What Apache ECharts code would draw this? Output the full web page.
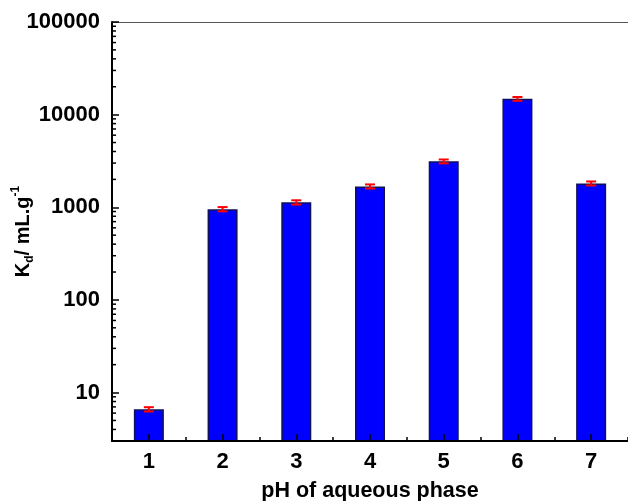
<!DOCTYPE html>
<html><head><meta charset="utf-8">
<script src="https://cdn.jsdelivr.net/npm/echarts@6/dist/echarts.min.js"></script>
<style>html,body{margin:0;padding:0;background:#fff}#c{width:628px;height:501px}</style>
</head><body><div id="c"></div>
<script>
var categories = ['1','2','3','4','5','6','7'];
var kdValues = [6.6, 955, 1130, 1680, 3130, 14800, 1810];
var kdErrors = [0.35, 50, 60, 85, 150, 700, 90];
var yTickLabels = ['10','100','1000','10000','100000'];
var minorMultipliers = [2,3,4,5,6,7,8,9];
var minorDecades = [1,10,100,1000,10000];

var minorData = [];
minorDecades.forEach(function(d){ minorMultipliers.forEach(function(m){ var v=m*d; if(v>3) minorData.push([0,v]); }); });
var errData = kdValues.map(function(v,i){ return [i, v-kdErrors[i], v+kdErrors[i]]; });

var FONT = 'Liberation Sans, Arial, sans-serif';
var chart = echarts.init(document.getElementById('c'), null, {renderer:'canvas'});
chart.setOption({
  animation:false,
  backgroundColor:'#fff',
  grid:{left:112, right:0, top:22, bottom:60, containLabel:false, outerBoundsMode:'none'},
  xAxis:[{
    type:'category', data:categories, position:'bottom', z:10,
    axisLine:{lineStyle:{color:'#000', width:2}},
    axisTick:{show:true, inside:true, alignWithLabel:true, length:7, lineStyle:{color:'#000', width:1.5}},
    axisLabel:{color:'#000', fontFamily:FONT, fontWeight:'bold', fontSize:22, margin:10},
    name:'pH of aqueous phase', nameLocation:'middle', nameGap:39, nameMoveOverlap:false,
    nameTextStyle:{color:'#000', fontFamily:FONT, fontWeight:'bold', fontSize:21.5},
    splitLine:{show:false}
  },{
    type:'category', data:categories, position:'bottom', z:10,
    axisLine:{show:false},
    axisTick:{show:true, inside:true, alignWithLabel:false, length:4, lineStyle:{color:'#000', width:1.5}},
    axisLabel:{show:false}, splitLine:{show:false}
  },{
    type:'category', data:categories, position:'top', z:10,
    axisLine:{lineStyle:{color:'#555', width:1}},
    axisTick:{show:false}, axisLabel:{show:false}, splitLine:{show:false}
  }],
  yAxis:{
    type:'log', min:3, max:100000, logBase:10, z:10,
    axisLine:{show:true, lineStyle:{color:'#000', width:2}},
    axisTick:{show:true, inside:true, length:7, lineStyle:{color:'#000', width:1.5}},
    axisLabel:{color:'#000', fontFamily:FONT, fontWeight:'bold', fontSize:22, margin:12,
      formatter:function(v){ var s=String(Math.round(v)); return yTickLabels.indexOf(s)>=0 ? s : ''; }},
    splitLine:{show:false},
    name:'{b|K}{s|d}{b|/ mL.g}{p|-1}', nameLocation:'middle', nameGap:76, nameMoveOverlap:false,
    nameTextStyle:{color:'#000', fontFamily:FONT, fontWeight:'bold', fontSize:20,
      rich:{
        b:{fontFamily:FONT, fontWeight:'bold', fontSize:20, color:'#000', lineHeight:26, verticalAlign:'middle'},
        s:{fontFamily:FONT, fontWeight:'bold', fontSize:12, color:'#000', lineHeight:26, verticalAlign:'bottom'},
        p:{fontFamily:FONT, fontWeight:'bold', fontSize:12, color:'#000', lineHeight:26, verticalAlign:'top'}
      }}
  },
  series:[{
    type:'bar', data:kdValues, barWidth:30, xAxisIndex:0, z:2,
    itemStyle:{color:'#0000ff', borderColor:'#10105a', borderWidth:1.5}
  },{
    type:'custom', xAxisIndex:0, z:5, data:errData,
    renderItem:function(params, api){
      var x = api.coord([api.value(0), api.value(1)])[0];
      var lo = api.coord([api.value(0), api.value(1)])[1];
      var hi = api.coord([api.value(0), api.value(2)])[1];
      var hw = 5;
      var st = {stroke:'#ff0000', lineWidth:2};
      return {type:'group', children:[
        {type:'line', shape:{x1:x, y1:lo, x2:x, y2:hi}, style:st},
        {type:'line', shape:{x1:x-hw, y1:lo, x2:x+hw, y2:lo}, style:st},
        {type:'line', shape:{x1:x-hw, y1:hi, x2:x+hw, y2:hi}, style:st}
      ]};
    }
  },{
    type:'custom', xAxisIndex:0, z:11, data:minorData, silent:true,
    renderItem:function(params, api){
      var y = api.coord([0, api.value(1)])[1];
      var x0 = params.coordSys.x;
      return {type:'line', shape:{x1:x0, y1:y, x2:x0+4, y2:y}, style:{stroke:'#000', lineWidth:1.5}};
    }
  }]
});
</script></body></html>
